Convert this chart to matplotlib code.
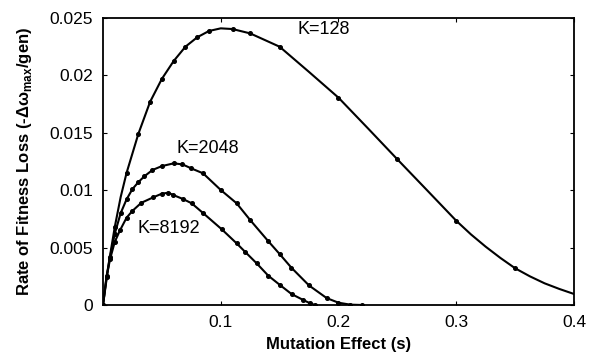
import numpy as np
import matplotlib
matplotlib.use("Agg")
import matplotlib.pyplot as plt

plt.rcParams['font.family'] = ['Liberation Sans', 'DejaVu Sans']
plt.rcParams['mathtext.fontset'] = 'custom'
plt.rcParams['mathtext.rm'] = 'Liberation Sans'
plt.rcParams['mathtext.bf'] = 'Liberation Sans:bold'

# K=128 : points (line) and the marked points
s128_line = [0, 0.005, 0.01, 0.015, 0.02, 0.03, 0.04, 0.05, 0.06, 0.07, 0.08, 0.09, 0.10, 0.11,
             0.125, 0.15, 0.175, 0.2, 0.225, 0.25, 0.275, 0.3, 0.3125, 0.325, 0.3375, 0.35,
             0.3625, 0.375, 0.3875, 0.4]
v128_line = [0, 0.0037, 0.0068, 0.0094, 0.0115, 0.0149, 0.0177, 0.0197, 0.02125, 0.0225,
             0.02332, 0.02387, 0.0241, 0.02404, 0.02366, 0.0225, 0.0203, 0.01806, 0.01539,
             0.01269, 0.01002, 0.00734, 0.00615, 0.00508, 0.0041, 0.0032, 0.0025, 0.00189,
             0.0014, 0.00096]
s128_mark = [0, 0.01, 0.02, 0.03, 0.04, 0.05, 0.06, 0.07, 0.08, 0.09, 0.11, 0.125, 0.15, 0.2,
             0.25, 0.3, 0.35]
v128_mark = [0, 0.0068, 0.0115, 0.0149, 0.0177, 0.0197, 0.02125, 0.0225, 0.02332, 0.02387,
             0.02404, 0.02366, 0.0225, 0.01806, 0.01269, 0.00734, 0.0032]

# K=2048
s2048 = [0, 0.003, 0.006, 0.01, 0.015, 0.02, 0.025, 0.03, 0.035, 0.042, 0.05, 0.06, 0.0675,
         0.075, 0.085, 0.1, 0.1135, 0.125, 0.14, 0.15, 0.16, 0.175, 0.19, 0.2, 0.21, 0.22]
v2048 = [0, 0.0025, 0.0042, 0.0062, 0.0080, 0.0092, 0.0101, 0.0107, 0.0112, 0.01176, 0.0121,
         0.01234, 0.01225, 0.0119, 0.01147, 0.01002, 0.00886, 0.0074, 0.0056, 0.00444, 0.00325,
         0.0017, 0.0006, 0.0002, 0.00003, 0]

# K=8192
s8192 = [0, 0.003, 0.006, 0.01, 0.0144, 0.02, 0.025, 0.0325, 0.0427, 0.05, 0.0555, 0.0597,
         0.068, 0.0753, 0.0852, 0.1008, 0.1135, 0.1206, 0.1305, 0.1404, 0.1503, 0.1602, 0.17,
         0.1758, 0.18]
v8192 = [0, 0.0024, 0.0040, 0.0055, 0.0065, 0.0076, 0.0082, 0.0089, 0.00938, 0.0097, 0.00978,
         0.00958, 0.00923, 0.00886, 0.00799, 0.0066, 0.00537, 0.00464, 0.00363, 0.00255,
         0.00174, 0.00095, 0.00044, 0.00015, 0]

labels = ['K=128', 'K=2048', 'K=8192']
label_pos = [(0.165, 0.0240), (0.062, 0.01365), (0.0295, 0.0067)]

fig = plt.figure(figsize=(5.94, 3.64), dpi=100)
ax = fig.add_axes([0.1734, 0.1621, 0.7929, 0.7884])

ax.plot(s128_line, v128_line, color='k', lw=1.5)
ax.plot(s128_mark, v128_mark, 'o', color='k', ms=2.6, lw=0)
ax.plot(s2048, v2048, color='k', lw=1.5, marker='o', ms=2.6)
ax.plot(s8192, v8192, color='k', lw=1.5, marker='o', ms=2.6)

for lab, (x, y) in zip(labels, label_pos):
    ax.text(x, y, lab, fontsize=13, va='center', ha='left')

ax.set_xlim(0, 0.4)
ax.set_ylim(0, 0.025)
ax.set_xticks([0.1, 0.2, 0.3, 0.4])
ax.set_xticklabels(['0.1', '0.2', '0.3', '0.4'])
ax.set_yticks([0, 0.005, 0.01, 0.015, 0.02, 0.025])
ax.set_yticklabels(['0', '0.005', '0.01', '0.015', '0.02', '0.025'])
ax.tick_params(direction='in', top=True, right=True, labelsize=12.5, length=3, width=0.8)
ax.tick_params(axis='x', pad=7)
ax.tick_params(axis='y', pad=7)
for sp in ax.spines.values():
    sp.set_linewidth(1.3)

ax.set_xlabel('Mutation Effect (s)', fontsize=12, fontweight='bold', labelpad=5)
ax.set_ylabel(r'Rate of Fitness Loss (-$\mathbf{\Delta\omega}_{\mathbf{max}}$/gen)',
              fontsize=12, fontweight='bold', labelpad=11)

fig.savefig('out.png', dpi=100)
